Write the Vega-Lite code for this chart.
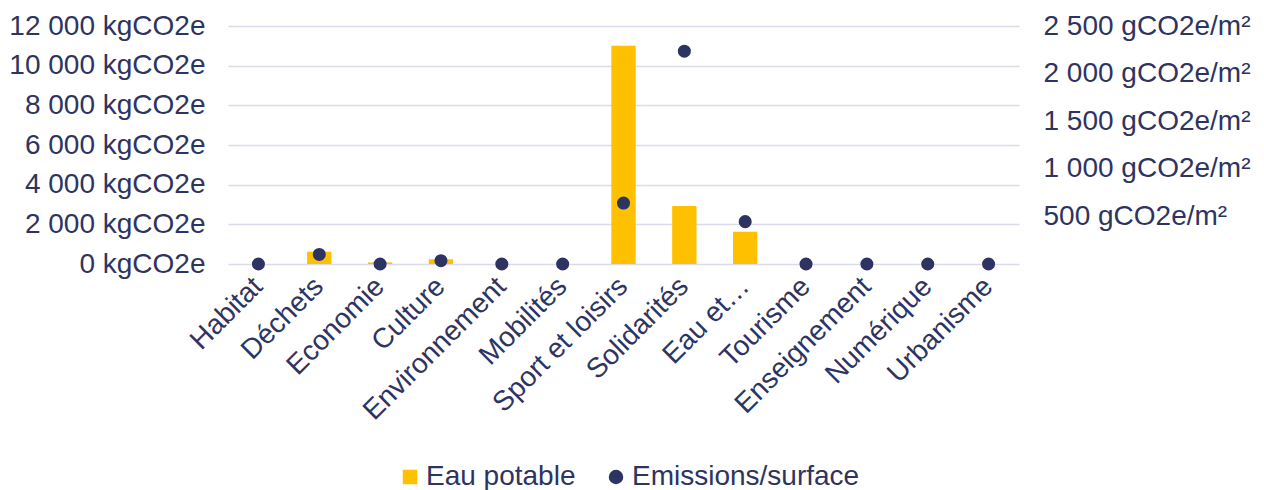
{
  "$schema": "https://vega.github.io/schema/vega-lite/v6.json",
  "autosize": {"type": "none"},
  "width": 791,
  "height": 238,
  "padding": {"left": 228, "top": 26, "right": 245, "bottom": 226},
  "background": "#ffffff",
  "config": {
    "view": {"stroke": null},
    "font": "Liberation Sans",
    "axis": {"labelFont": "Liberation Sans", "labelFontSize": 28, "labelColor": "#2E3461", "labelLimit": 0, "ticks": false, "tickSize": 0, "domain": false, "title": null},
    "legend": {"labelFont": "Liberation Sans", "labelFontSize": 28, "labelColor": "#2E3461", "labelLimit": 0}
  },
  "data": {
    "values": [
      {"category": "Habitat", "series": "Eau potable", "value": 0},
      {"category": "Déchets", "series": "Eau potable", "value": 620},
      {"category": "Economie", "series": "Eau potable", "value": 80},
      {"category": "Culture", "series": "Eau potable", "value": 240},
      {"category": "Environnement", "series": "Eau potable", "value": 0},
      {"category": "Mobilités", "series": "Eau potable", "value": 0},
      {"category": "Sport et loisirs", "series": "Eau potable", "value": 11000},
      {"category": "Solidarités", "series": "Eau potable", "value": 2920},
      {"category": "Eau et…", "series": "Eau potable", "value": 1630},
      {"category": "Tourisme", "series": "Eau potable", "value": 0},
      {"category": "Enseignement", "series": "Eau potable", "value": 0},
      {"category": "Numérique", "series": "Eau potable", "value": 0},
      {"category": "Urbanisme", "series": "Eau potable", "value": 0},
      {"category": "Habitat", "series": "Emissions/surface", "value": 0},
      {"category": "Déchets", "series": "Emissions/surface", "value": 100},
      {"category": "Economie", "series": "Emissions/surface", "value": 0},
      {"category": "Culture", "series": "Emissions/surface", "value": 35},
      {"category": "Environnement", "series": "Emissions/surface", "value": 0},
      {"category": "Mobilités", "series": "Emissions/surface", "value": 0},
      {"category": "Sport et loisirs", "series": "Emissions/surface", "value": 640},
      {"category": "Solidarités", "series": "Emissions/surface", "value": 2235},
      {"category": "Eau et…", "series": "Emissions/surface", "value": 445},
      {"category": "Tourisme", "series": "Emissions/surface", "value": 0},
      {"category": "Enseignement", "series": "Emissions/surface", "value": 0},
      {"category": "Numérique", "series": "Emissions/surface", "value": 0},
      {"category": "Urbanisme", "series": "Emissions/surface", "value": 0}
    ]
  },
  "encoding": {
    "x": {
      "field": "category",
      "type": "nominal",
      "sort": null,
      "scale": {"paddingInner": 0.6, "paddingOuter": 0.3},
      "axis": {"labelAngle": -45, "labelAlign": "right", "labelBaseline": "middle", "labelPadding": 18, "grid": false}
    },
    "color": {
      "field": "series",
      "type": "nominal",
      "scale": {"domain": ["Eau potable", "Emissions/surface"], "range": ["#FFC000", "#2E3461"]},
      "legend": {
        "title": null,
        "orient": "none",
        "direction": "horizontal",
        "legendX": 168,
        "legendY": 437,
        "symbolSize": 210,
        "symbolOpacity": 1,
        "labelOffset": 2,
        "columnPadding": 26,
        "padding": 0
      }
    }
  },
  "layer": [
    {
      "transform": [{"filter": "datum.series === 'Eau potable'"}],
      "mark": {"type": "bar", "opacity": 1},
      "encoding": {
        "y": {
          "field": "value",
          "type": "quantitative",
          "scale": {"domain": [0, 12000], "nice": false},
          "axis": {
            "orient": "left",
            "values": [0, 2000, 4000, 6000, 8000, 10000, 12000],
            "labelExpr": "replace(format(datum.value, ',d'), ',', ' ') + ' kgCO2e'",
            "labelPadding": 23,
            "grid": true,
            "gridColor": "#D9DAEC",
            "gridWidth": 1.6
          }
        },
        "shape": {
          "field": "series",
          "type": "nominal",
          "scale": {"domain": ["Eau potable", "Emissions/surface"], "range": ["square", "circle"]}
        }
      }
    },
    {
      "transform": [{"filter": "datum.series === 'Emissions/surface'"}],
      "mark": {"type": "point", "filled": true, "opacity": 1, "size": 170},
      "encoding": {
        "y": {
          "field": "value",
          "type": "quantitative",
          "scale": {"domain": [0, 2500], "nice": false},
          "axis": {
            "orient": "right",
            "values": [500, 1000, 1500, 2000, 2500],
            "labelExpr": "(datum.value < 1000 ? '\u00a0' : '') + replace(format(datum.value, ',d'), ',', ' ') + ' gCO2e/m²'",
            "labelPadding": 24,
            "grid": false
          }
        },
        "shape": {
          "field": "series",
          "type": "nominal",
          "scale": {"domain": ["Eau potable", "Emissions/surface"], "range": ["square", "circle"]}
        }
      }
    }
  ],
  "resolve": {"scale": {"y": "independent"}}
}
